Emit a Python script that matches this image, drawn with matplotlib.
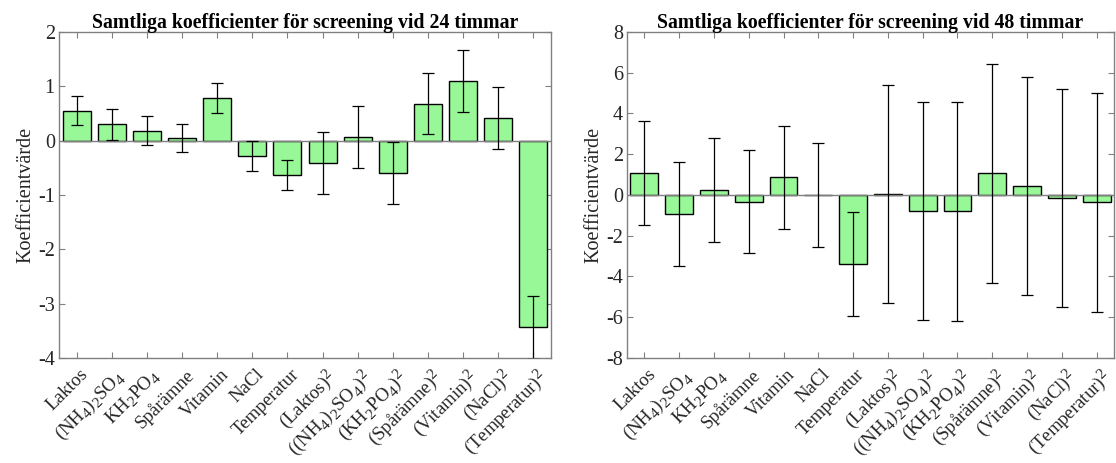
import matplotlib
matplotlib.use("Agg")
import matplotlib.pyplot as plt
import matplotlib.transforms as mtransforms
import numpy as np

try:
    import matplotlib._mathtext as _mt
    _mt.SHRINK_FACTOR = 0.82
    _mt.FontConstantsBase.sub1 = 0.38
    _mt.FontConstantsBase.sub2 = 0.5
except Exception:
    pass

plt.rcParams['font.family'] = ['Liberation Serif', 'DejaVu Serif']
plt.rcParams['mathtext.fontset'] = 'custom'
plt.rcParams['mathtext.rm'] = 'Liberation Serif'
plt.rcParams['mathtext.it'] = 'Liberation Serif'
plt.rcParams['mathtext.bf'] = 'Liberation Serif:bold'

categories = [
    'Laktos', r'(NH$_4$)$_2$SO$_4$', r'KH$_2$PO$_4$', 'Spårämne', 'Vitamin',
    'NaCl', 'Temperatur', r'(Laktos)$^2$', r'((NH$_4$)$_2$SO$_4$)$^2$',
    r'(KH$_2$PO$_4$)$^2$', r'(Spårämne)$^2$', r'(Vitamin)$^2$',
    r'(NaCl)$^2$', r'(Temperatur)$^2$'
]

coef_24 = [0.55, 0.30, 0.18, 0.05, 0.79, -0.28, -0.63, -0.415, 0.067, -0.60,
           0.68, 1.10, 0.415, -3.43]
err_24 = [0.27, 0.28, 0.265, 0.265, 0.275, 0.27, 0.27, 0.575, 0.575, 0.57,
          0.565, 0.57, 0.57, 0.58]

coef_48 = [1.09, -0.94, 0.25, -0.33, 0.88, -0.01, -3.37, 0.05, -0.78, -0.81,
           1.06, 0.45, -0.15, -0.36]
err_48 = [2.54, 2.54, 2.54, 2.53, 2.53, 2.54, 2.55, 5.36, 5.36, 5.36,
          5.36, 5.36, 5.36, 5.36]

titles = ['Samtliga koefficienter för screening vid 24 timmar',
          'Samtliga koefficienter för screening vid 48 timmar']
ylims = [(-4, 2), (-8, 8)]
yticks = [np.arange(-4, 3, 1), np.arange(-8, 9, 2)]

fig = plt.figure(figsize=(11.16, 4.63), dpi=100)
ax1 = fig.add_axes([59 / 1116, 0.2268, 492 / 1116, 0.7041])
ax2 = fig.add_axes([627 / 1116, 0.2268, 487 / 1116, 0.7041])

spine_col = '#808080'
text_col = '#262626'
x = np.arange(1, len(categories) + 1)
offset = mtransforms.ScaledTranslation(3 / 100, -4 / 100, fig.dpi_scale_trans)

for ax, vals, errs, title, yl, yt in zip(
        [ax1, ax2], [coef_24, coef_48], [err_24, err_48], titles, ylims, yticks):
    ax.bar(x, vals, width=0.8, color='#98F898', edgecolor='black', linewidth=1.0, zorder=2)
    ax.axhline(0, color='#808080', linewidth=1.0, zorder=3)
    ax.errorbar(x, vals, yerr=errs, fmt='none', ecolor='black', elinewidth=0.9,
                capsize=4, capthick=0.9, zorder=4)
    ax.set_xlim(0.5, 14.5)
    ax.set_ylim(*yl)
    ax.set_yticks(yt)
    ax.set_yticklabels([str(v) for v in yt], fontsize=14.5, color=text_col)
    ax.set_xticks(x)
    ax.set_xticklabels(categories, rotation=45, ha='right', rotation_mode='anchor',
                       fontsize=13.5, color=text_col)
    ax.tick_params(direction='in', top=True, right=True, length=4, width=0.8,
                   color=spine_col, pad=3)
    for lbl in ax.get_xticklabels():
        lbl.set_transform(lbl.get_transform() + offset)
    for s in ax.spines.values():
        s.set_color(spine_col)
        s.set_linewidth(1.0)
    ax.set_title(title, fontsize=14.2, fontweight='bold', pad=3)
    ax.set_ylabel('Koefficientvärde', fontsize=14.5, color=text_col, labelpad=2)

fig.savefig('out.png', dpi=100)
